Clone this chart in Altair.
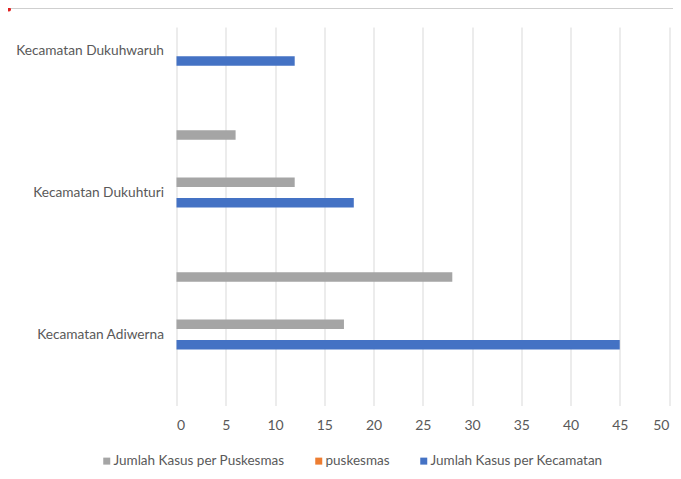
import altair as alt
import pandas as pd

# Category slots, top to bottom (blank slots have no label)
categories = ["Kecamatan Dukuhwaruh", "", "", "Kecamatan Dukuhturi", "", "", "Kecamatan Adiwerna", ""]
series = ["Jumlah Kasus per Puskesmas", "puskesmas", "Jumlah Kasus per Kecamatan"]
colors = ["#A5A5A5", "#ED7D31", "#4472C4"]
kasus_per_puskesmas = [None, None, 6, 12, None, 28, 17, None]
puskesmas = [0, None, None, 0, None, None, 0, None]
kasus_per_kecamatan = [12, None, None, 18, None, None, 45, None]
x_ticks = [0, 5, 10, 15, 20, 25, 30, 35, 40, 45, 50]

slots = [f"s{i}" for i in range(len(categories))]
rows = []
for i, slot in enumerate(slots):
    for name, vals in zip(series, [kasus_per_puskesmas, puskesmas, kasus_per_kecamatan]):
        if vals[i] is not None:
            rows.append({"slot": slot, "series": name, "value": vals[i]})
df = pd.DataFrame(rows)

label_expr = ""
for s, c in zip(slots, categories):
    if c:
        label_expr += f"datum.value == '{s}' ? '{c}' : "
label_expr += "''"

FONT = "Lato"
TXT = "#595959"

bars = alt.Chart(df).mark_bar().encode(
    x=alt.X(
        "value:Q",
        scale=alt.Scale(domain=[0, 50], nice=False),
        axis=alt.Axis(values=x_ticks, title=None, grid=True, gridColor="#d9d9d9",
                      domain=False, ticks=False, labelPadding=13, labelColor=TXT,
                      labelFontSize=14, labelFont=FONT),
    ),
    y=alt.Y(
        "slot:N",
        scale=alt.Scale(domain=slots, paddingInner=0.366, paddingOuter=0.183),
        axis=alt.Axis(title=None, labelExpr=label_expr, domain=False, ticks=False,
                      grid=False, labelPadding=13, labelColor=TXT, labelFontSize=13.7,
                      labelFont=FONT, labelLimit=0),
    ),
    yOffset=alt.YOffset("series:N", scale=alt.Scale(domain=series, paddingInner=0.07)),
    color=alt.Color(
        "series:N",
        scale=alt.Scale(domain=series, range=colors),
        legend=alt.Legend(orient="none", legendX=-76.5, legendY=427, direction="horizontal",
                          title=None, symbolType="square", symbolSize=49, symbolStrokeWidth=0,
                          labelFontSize=13.5, labelFont=FONT, labelColor=TXT, labelLimit=0,
                          columnPadding=27, labelOffset=0, padding=0),
    ),
)

border = alt.Chart(alt.Data(values=[{"k": 1}])).mark_rule(color="#cfcfcf", strokeWidth=1).encode(
    x=alt.value(-168.5), x2=alt.value(500), y=alt.value(-18.5)
)
dot = alt.Chart(alt.Data(values=[{"k": 1}])).mark_point(filled=True, color="#e02020", size=16, opacity=1).encode(
    x=alt.value(-167.5), y=alt.value(-17.5)
)

chart = alt.layer(bars, border, dot).properties(
    width=492.5,
    height=378.5,
    autosize=alt.AutoSizeParams(type="none"),
    padding={"left": 168.5, "top": 19, "right": 4, "bottom": 64},
).configure_view(stroke=None)

chart.save("out.html", embed_options={"renderer": "svg", "actions": False})
